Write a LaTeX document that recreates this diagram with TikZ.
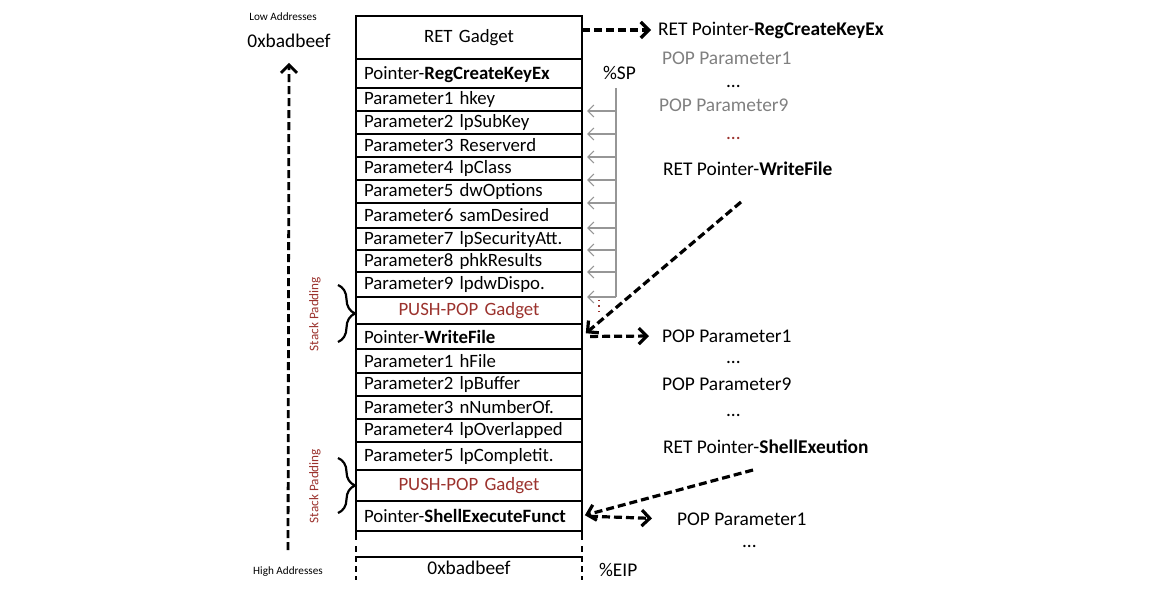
\documentclass[tikz,border=0pt]{standalone}
\usepackage{fontspec}
\setmainfont{Carlito}
\usetikzlibrary{arrows.meta}
\usetikzlibrary{calc}
\usetikzlibrary{decorations.pathreplacing}
\definecolor{padred}{RGB}{155,50,45}
\definecolor{popgray}{RGB}{128,128,128}
\definecolor{spgray}{RGB}{150,150,150}

\tikzset{
	cell/.style={draw, line width=1pt, text width=105pt, inner xsep=4pt, inner ysep=0pt, outer sep=0pt, align=left, font=\fontsize{9.4}{11}\selectfont},
	midcell/.style={cell, align=center},
	note/.style={anchor=west, font=\fontsize{9.7}{11}\selectfont},
	tiny/.style={font=\fontsize{5.6}{7}\selectfont},
	jump/.style={line width=1.6pt, dash pattern=on 4pt off 2pt, -{Straight Barb[length=4pt, width=8pt]}},
	spline/.style={spgray, line width=0.6pt},
	padbrace/.style={decorate, decoration={brace, amplitude=8.5pt}, line width=1.1pt},
}

\begin{document}
\begin{tikzpicture}[x=0.5pt, y=-0.5pt]
	\useasboundingbox (0,0) rectangle (1171,598);
	% the stack
	\node[midcell, minimum height=21.5pt] (gadget) at (469,37.5) {RET Gadget};
	\node[cell, minimum height=14.5pt, text depth=-2pt] (regptr) at (469,73.5) {Pointer-\textbf{RegCreateKeyEx}};
	\node[cell, minimum height=11.5pt] (ra1) at (469,99.5) {Parameter1 hkey};
	\node[cell, minimum height=11.5pt] (ra2) at (469,122.5) {Parameter2 lpSubKey};
	\node[cell, minimum height=11.5pt] (ra3) at (469,145.5) {Parameter3 Reserverd};
	\node[cell, minimum height=11.5pt] (ra4) at (469,168.5) {Parameter4 lpClass};
	\node[cell, minimum height=11.5pt] (ra5) at (469,191.5) {Parameter5 dwOptions};
	\node[cell, minimum height=12.5pt] (ra6) at (469,215.5) {Parameter6 samDesired};
	\node[cell, minimum height=11pt] (ra7) at (469,239) {Parameter7 lpSecurityAtt.};
	\node[cell, minimum height=11pt] (ra8) at (469,261) {Parameter8 phkResults};
	\node[cell, minimum height=12.5pt] (ra9) at (469,284.5) {Parameter9 lpdwDispo.};
	\node[midcell, minimum height=13.5pt, text=padred] (push1) at (469,310.5) {PUSH-POP Gadget};
	\node[cell, minimum height=12.5pt] (wfptr) at (469,336.5) {Pointer-\textbf{WriteFile}};
	\node[cell, minimum height=12pt] (wa1) at (469,361) {Parameter1 hFile};
	\node[cell, minimum height=11.5pt] (wa2) at (469,384.5) {Parameter2 lpBuffer};
	\node[cell, minimum height=11.5pt] (wa3) at (469,407.5) {Parameter3 nNumberOf.};
	\node[cell, minimum height=11.5pt] (wa4) at (469,430.5) {Parameter4 lpOverlapped};
	\node[cell, minimum height=14pt] (wa5) at (469,456) {Parameter5 lpCompletit.};
	\node[midcell, minimum height=15.5pt, text=padred] (push2) at (469,485.5) {PUSH-POP Gadget};
	\node[cell, minimum height=15pt] (shptr) at (469,516) {Pointer-\textbf{ShellExecuteFunct}};

	% open end of the stack
	\coordinate (bl) at (356,557);
	\coordinate (br) at (582,557);
	\node[font=\fontsize{9.7}{11}\selectfont] (beef) at (469,568) {0xbadbeef};
	\draw[line width=1pt] (shptr.south west) -- ++(0,9);
	\draw[line width=1pt] (shptr.south east) -- ++(0,9);
	\draw[line width=1pt, dash pattern=on 3pt off 2pt] (356,546) -- (356,580);
	\draw[line width=1pt, dash pattern=on 3pt off 2pt] (582,546) -- (582,580);
	\draw[line width=1pt] (bl) -- (br);
	\node[note] (eip) at (592,570) {\%EIP};

	% addresses
	\node[tiny] (low) at (283,17) {Low Addresses};
	\node[font=\fontsize{9.7}{11}\selectfont] (topaddr) at (289,41) {0xbadbeef};
	\node[tiny] (high) at (288,572) {High Addresses};
	\draw[jump, line width=1.4pt, shorten <=5pt, shorten >=4pt] (high.north) -- (topaddr.south);

	% stack padding
	\node[rotate=90, padred, font=\fontsize{6.6}{8}\selectfont] (pad1) at (315,314) {Stack Padding};
	\node[rotate=90, padred, font=\fontsize{6.6}{8}\selectfont] (pad2) at (315,486) {Stack Padding};
	\draw[padbrace] (338,285) -- (338,342);
	\draw[padbrace] (338,458) -- (338,513);

	% stack pointer
	\node[note] (spl) at (596,73) {\%SP};
	\coordinate (sptop) at (616,88);
	\draw[spline] (sptop) -- (sptop |- ra9.south);
	\foreach \r in {1,...,9}
		\draw[spline, -{Straight Barb[length=3pt, width=6pt]}, shorten >=2.5pt] (sptop |- ra\r.south east) -- (ra\r.south east);
	\draw[padred, dotted, line width=0.7pt] (599,300) -- (599,315);

	% call chain
	\node[note] (t1) at (651,30) {RET Pointer-\textbf{RegCreateKeyEx}};
	\node[note, popgray] (t2) at (655,58) {POP Parameter1};
	\node[note] (d1) at (719,86) {...};
	\node[note, popgray] (t3) at (652,105) {POP Parameter9};
	\node[note, padred] (d2) at (719,138) {...};
	\node[note] (t4) at (656,169) {RET Pointer-\textbf{WriteFile}};
	\node[note] (t5) at (655,336) {POP Parameter1};
	\node[note] (d3) at (719,362) {...};
	\node[note] (t6) at (655,384) {POP Parameter9};
	\node[note] (d4) at (719,415) {...};
	\node[note] (t7) at (656,447) {RET Pointer-\textbf{ShellExeution}};
	\node[note] (t8) at (670,519) {POP Parameter1};
	\node[note] (d5) at (735,546) {...};
	\coordinate (wfdrop) at (741,202);
	\coordinate (shdrop) at (753,470);

	\draw[jump] (t1.west -| gadget.east) -- (t1.west);
	\draw[jump, shorten >=2.5pt] (wfdrop) -- (wfptr.east);
	\draw[jump, shorten <=4pt, shorten >=3pt] (wfptr.east) -- (t5.west);
	\draw[jump, shorten >=1.5pt] (shdrop) -- (shptr.east);
	\draw[jump, shorten <=4pt, shorten >=9pt] (shptr.east) -- (t8.west);
\end{tikzpicture}
\end{document}
